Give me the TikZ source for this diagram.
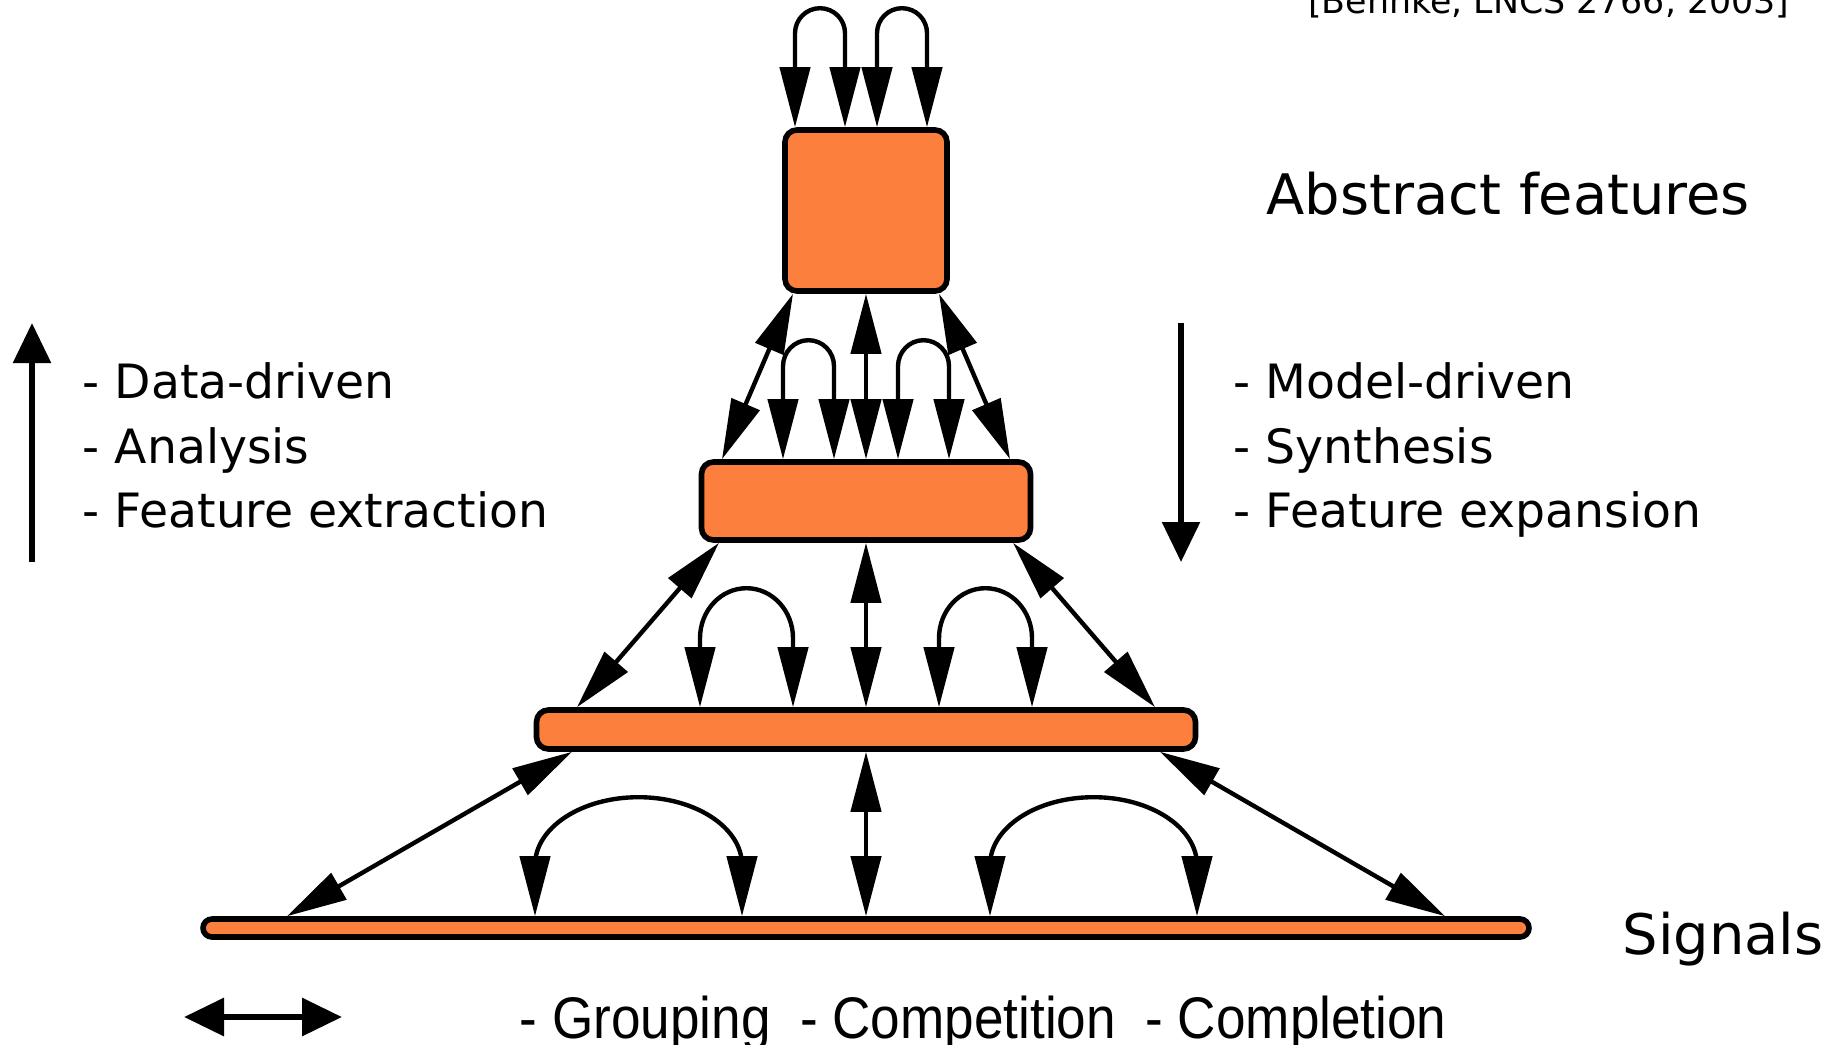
\documentclass[tikz,border=0pt]{standalone}
\usepackage{fontspec}
\setmainfont{DejaVu Sans}
\newfontfamily\narrowfont[FakeStretch=0.905]{Liberation Sans}
\usepackage{xcolor}
\usepackage{tikz}
\usetikzlibrary{arrows.meta}
\definecolor{layerorange}{RGB}{252,127,62}

\begin{document}
\begin{tikzpicture}[
  layer/.style={draw,line width=1.6pt,fill=layerorange,rounded corners=1.2mm,inner sep=0pt},
  link/.style={{Triangle[length=6mm,width=3mm]}-{Triangle[length=6mm,width=3mm]},line width=1.25pt},
  bigarrow/.style={-{Triangle[length=4mm,width=3.7mm]},line width=1.6pt},
  bothbig/.style={{Triangle[length=4mm,width=3.7mm]}-{Triangle[length=4mm,width=3.7mm]},line width=1.8pt},
  big/.style={font=\fontsize{15.9}{19}\selectfont,anchor=base west,inner sep=0pt},
  item/.style={font=\fontsize{13.45}{16}\selectfont,anchor=base west,inner sep=0pt}
]
  \useasboundingbox (0,0) rectangle (18.37,10.44);
  \clip (0,0) rectangle (18.37,10.44);
  \def\cx{8.66}\def\lh{1.19}
  % the four layers
  \node[layer,minimum width=1.62cm,minimum height=1.61cm] (abstr) at (\cx,8.335) {};
  \node[layer,minimum width=3.29cm,minimum height=0.78cm] (mid) at (\cx,5.43) {};
  \node[layer,minimum width=6.59cm,minimum height=0.39cm] (low) at (\cx,3.145) {};
  \node[layer,minimum width=13.26cm,minimum height=0.18cm,rounded corners=0.9mm] (sig) at (\cx,1.16) {};
  % lateral loops: leg, half ellipse, leg
  \foreach \a/\b/\ry in {-0.71/-0.21/0.25,0.11/0.61/0.25}
    \draw[link] ([xshift=\a cm]abstr.north) -- ++(0,{\lh-\ry}) arc[start angle=180,end angle=0,x radius={(\b-(\a))/2},y radius=\ry] -- ([xshift=\b cm]abstr.north);
  \foreach \a/\b/\ry in {-0.83/-0.32/0.26,0.32/0.83/0.26}
    \draw[link] ([xshift=\a cm]mid.north) -- ++(0,{\lh-\ry}) arc[start angle=180,end angle=0,x radius={(\b-(\a))/2},y radius=\ry] -- ([xshift=\b cm]mid.north);
  \foreach \a/\b/\ry in {-1.66/-0.73/0.5,0.73/1.66/0.5}
    \draw[link] ([xshift=\a cm]low.north) -- ++(0,{\lh-\ry}) arc[start angle=180,end angle=0,x radius={(\b-(\a))/2},y radius=\ry] -- ([xshift=\b cm]low.north);
  \foreach \a/\b/\ry in {-3.31/-1.24/0.68,1.24/3.31/0.68}
    \draw[link] ([xshift=\a cm]sig.north) -- ++(0,{\lh-\ry}) arc[start angle=180,end angle=0,x radius={(\b-(\a))/2},y radius=\ry] -- ([xshift=\b cm]sig.north);
  % vertical links
  \draw[link] (abstr) -- (mid);
  \draw[link] (mid) -- (low);
  \draw[link] (low) -- (sig);
  \draw[link] ([xshift=-0.73cm]abstr.south) -- ([xshift=-1.44cm]mid.north);
  \draw[link] ([xshift=0.73cm]abstr.south) -- ([xshift=1.44cm]mid.north);
  \draw[link] ([xshift=-1.47cm]mid.south) -- ([xshift=-2.89cm]low.north);
  \draw[link] ([xshift=1.47cm]mid.south) -- ([xshift=2.89cm]low.north);
  \draw[link] ([xshift=-2.94cm]low.south) -- ([xshift=-5.79cm]sig.north);
  \draw[link] ([xshift=2.94cm]low.south) -- ([xshift=5.79cm]sig.north);
  % side arrows
  \coordinate (up0) at (0.32,4.82); \coordinate (up1) at (0.32,7.21);
  \coordinate (dn0) at (11.81,7.21); \coordinate (dn1) at (11.81,4.82);
  \coordinate (wl) at (1.84,0.27); \coordinate (wr) at (3.42,0.27);
  \draw[bigarrow] (up0) -- (up1);
  \draw[bigarrow] (dn0) -- (dn1);
  \draw[bothbig] (wl) -- (wr);
  % texts
  \node[big] (abslbl) at (12.66,8.30) {Abstract features};
  \node[big] (siglbl) at (16.22,0.90) {Signals};
  \node[item] (dd) at (0.82,6.46) {- Data-driven};
  \node[item] (an) at (0.82,5.81) {- Analysis};
  \node[item] (fx) at (0.82,5.17) {- Feature extraction};
  \node[item] (md) at (12.33,6.46) {- Model-driven};
  \node[item] (sy) at (12.33,5.81) {- Synthesis};
  \node[item] (fe) at (12.33,5.17) {- Feature expansion};
  \node[font=\fontsize{9.9}{12}\selectfont,anchor=base east,inner sep=0pt] (cite) at (17.90,10.30) {[Behnke, LNCS 2766, 2003]};
  \node[font=\narrowfont\fontsize{16.7}{20}\selectfont,anchor=base west,inner sep=0pt] (ops) at (5.19,0.06) {- Grouping\ \ - Competition\ \ - Completion};
\end{tikzpicture}
\end{document}
